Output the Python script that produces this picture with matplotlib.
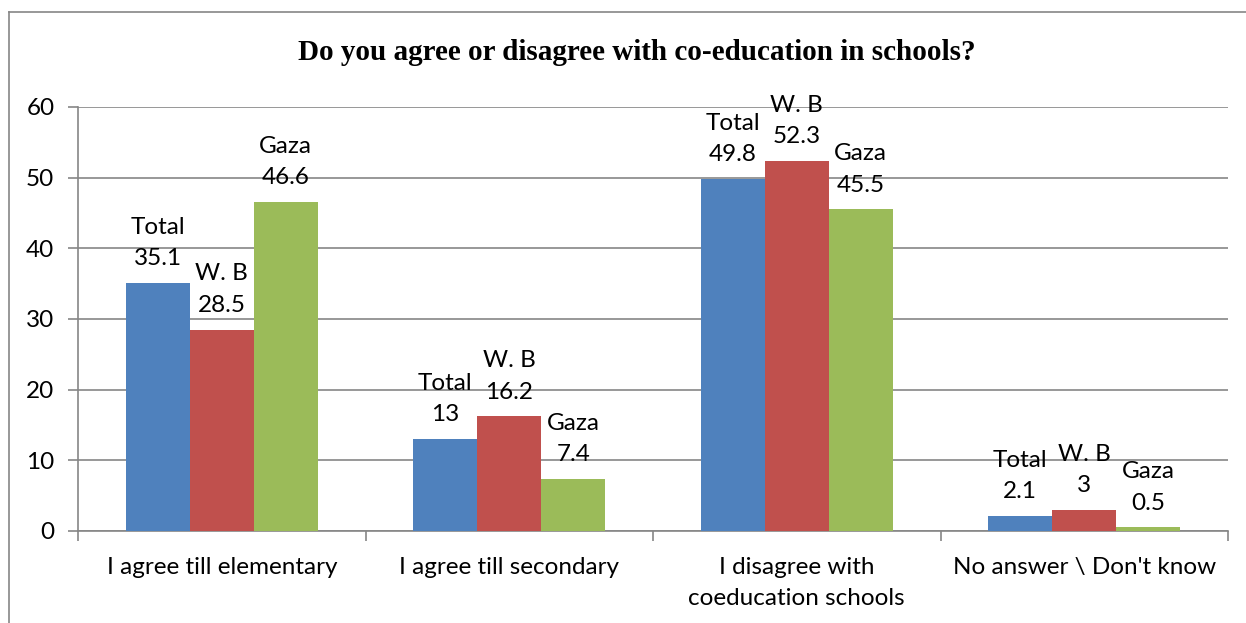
import matplotlib
matplotlib.use("Agg")
import matplotlib.pyplot as plt
import numpy as np
from matplotlib.lines import Line2D

categories = ["I agree till elementary", "I agree till secondary",
              "I disagree with\ncoeducation schools", "No answer \\ Don't know"]
series_names = ["Total", "W. B", "Gaza"]
total = [35.1, 13, 49.8, 2.1]
wb = [28.5, 16.2, 52.3, 3]
gaza = [46.6, 7.4, 45.5, 0.5]
value_labels = [["35.1", "13", "49.8", "2.1"],
                ["28.5", "16.2", "52.3", "3"],
                ["46.6", "7.4", "45.5", "0.5"]]
yticks = [0, 10, 20, 30, 40, 50, 60]
colors = ["#4F81BD", "#C0504D", "#9BBB59"]

font = "Lato"
fs = 17.5
fig = plt.figure(figsize=(12.46, 6.23), dpi=100)
ax = fig.add_axes([0.0626, 0.1477, 0.9230, 0.6806])

x = np.arange(len(categories))
w = 0.2226
for i, (name, vals) in enumerate(zip(series_names, [total, wb, gaza])):
    pos = x + (i - 1) * w
    ax.bar(pos, vals, width=w, color=colors[i], zorder=3)
    for p, v, lab in zip(pos, vals, value_labels[i]):
        ax.annotate(f"{name}\n{lab}", (p, v), xytext=(0, 10), textcoords="offset points",
                    ha="center", va="bottom", fontsize=fs, family=font,
                    linespacing=1.6, zorder=4)

ax.set_xlim(-0.5, 3.5)
ax.set_ylim(0, 60)
ax.set_yticks(yticks)
ax.set_yticklabels([str(t) for t in yticks], family=font, fontsize=fs)
ax.yaxis.grid(True, color="#868686", lw=1.2, zorder=0)
ax.set_axisbelow(True)

ax.set_xticks(np.arange(-0.5, 4, 1))
ax.set_xticklabels([])
ax.set_xticks(x, minor=True)
ax.set_xticklabels(categories, minor=True, family=font, fontsize=fs, linespacing=1.55)
ax.tick_params(axis="x", which="minor", length=0, pad=19)
ax.tick_params(axis="x", which="major", length=7, color="#868686", width=1.2)
ax.tick_params(axis="y", length=7, color="#868686", width=1.2, pad=10)

for s in ["top", "right"]:
    ax.spines[s].set_visible(False)
for s in ["left", "bottom"]:
    ax.spines[s].set_color("#868686")
    ax.spines[s].set_linewidth(1.2)

fig.text(0.511, 0.9165, "Do you agree or disagree with co-education in schools?",
         ha="center", va="center", fontsize=21, fontweight="bold", family="Liberation Serif")

fig.add_artist(Line2D([0.0072, 0.0072], [0, 0.9807], transform=fig.transFigure, color="#868686", lw=1.2))
fig.add_artist(Line2D([0.0072, 1.0], [0.9807, 0.9807], transform=fig.transFigure, color="#868686", lw=1.2))

fig.savefig("out.png", dpi=100)
